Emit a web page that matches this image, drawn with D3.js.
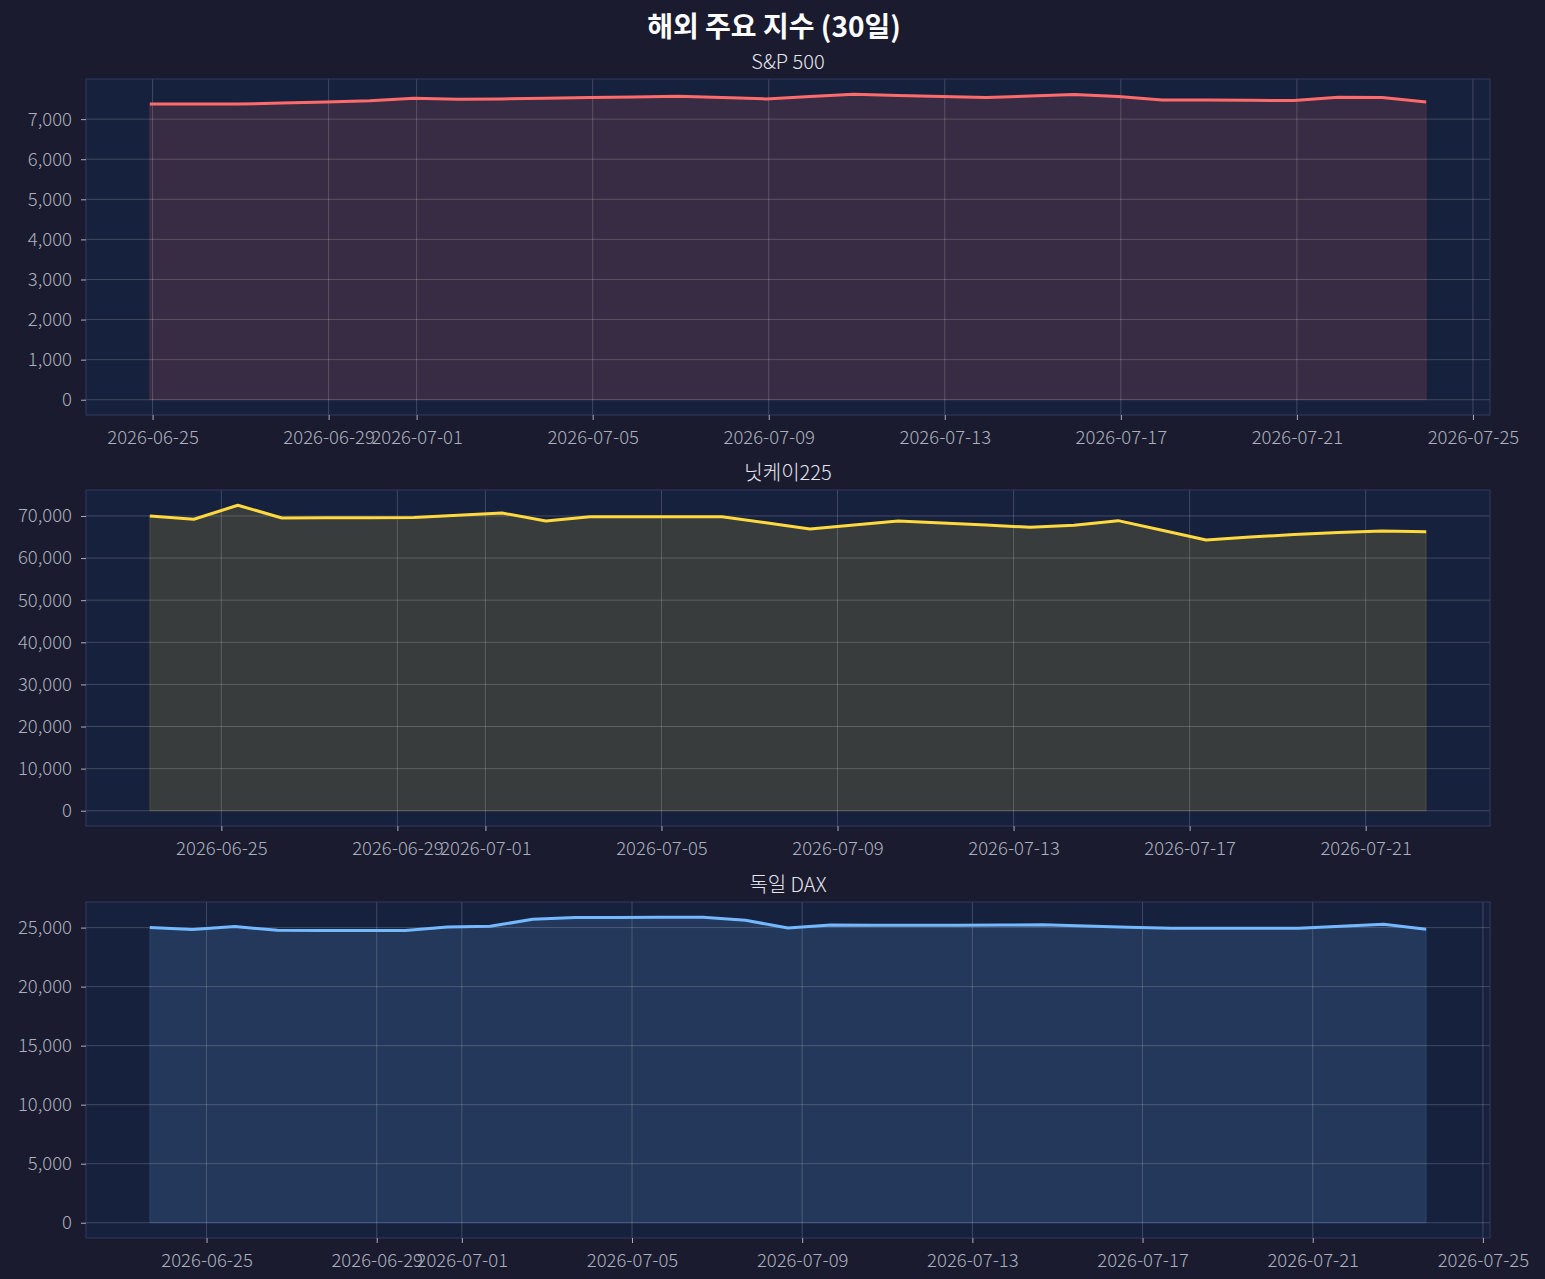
<!DOCTYPE html>
<html>
<head>
<meta charset="utf-8">
<script src="https://cdn.jsdelivr.net/npm/d3@7"></script>
<style>
  html, body { margin: 0; padding: 0; background: #1a1b2e; }
  svg { display: block; }
  text { font-family: "Noto Sans CJK KR", "Noto Sans", sans-serif; }
</style>
</head>
<body>
<svg id="chart" width="1545" height="1279"></svg>
<script>
// ---------------- data ----------------
const chartTitle = "해외 주요 지수 (30일)";
const panelTitles = ["S&P 500", "닛케이225", "독일 DAX"];
const lineColors = ["#ff6b6b", "#ffd93d", "#74b9ff"];

const spTime = "22:30";
const spDays = ["2026-06-24","2026-06-25","2026-06-26","2026-06-27","2026-06-28","2026-06-29","2026-06-30",
  "2026-07-01","2026-07-02","2026-07-03","2026-07-04","2026-07-05","2026-07-06","2026-07-07","2026-07-08",
  "2026-07-09","2026-07-10","2026-07-11","2026-07-12","2026-07-13","2026-07-14","2026-07-15","2026-07-16",
  "2026-07-17","2026-07-18","2026-07-19","2026-07-20","2026-07-21","2026-07-22","2026-07-23"];
const spValues = [7380, 7380, 7375, 7400, 7430, 7460, 7520, 7497, 7505, 7520, 7537, 7555, 7572, 7540, 7505,
  7565, 7620, 7590, 7562, 7537, 7575, 7612, 7562, 7480, 7475, 7470, 7463, 7546, 7537, 7430];

const nkTime = "09:00";
const nkDays = ["2026-06-23","2026-06-24","2026-06-25","2026-06-26","2026-06-27","2026-06-28","2026-06-29",
  "2026-06-30","2026-07-01","2026-07-02","2026-07-03","2026-07-04","2026-07-05","2026-07-06","2026-07-07",
  "2026-07-08","2026-07-09","2026-07-10","2026-07-11","2026-07-12","2026-07-13","2026-07-14","2026-07-15",
  "2026-07-16","2026-07-17","2026-07-18","2026-07-19","2026-07-20","2026-07-21","2026-07-22"];
const nkValues = [70000, 69220, 72540, 69530, 69550, 69580, 69610, 70150, 70720, 68820, 69800, 69800, 69800,
  69800, 68400, 66920, 67870, 68820, 68330, 67830, 67320, 67800, 68890, 66600, 64310, 65000, 65580, 66050,
  66450, 66280];

const dxTime = "16:00";
const dxDays = ["2026-06-23","2026-06-24","2026-06-25","2026-06-26","2026-06-27","2026-06-28","2026-06-29",
  "2026-06-30","2026-07-01","2026-07-02","2026-07-03","2026-07-04","2026-07-05","2026-07-06","2026-07-07",
  "2026-07-08","2026-07-09","2026-07-10","2026-07-11","2026-07-12","2026-07-13","2026-07-14","2026-07-15",
  "2026-07-16","2026-07-17","2026-07-18","2026-07-19","2026-07-20","2026-07-21","2026-07-22","2026-07-23"];
const dxValues = [25000, 24830, 25085, 24770, 24760, 24750, 24745, 25050, 25110, 25705, 25850, 25860, 25870,
  25875, 25620, 24970, 25220, 25200, 25200, 25200, 25220, 25240, 25130, 25030, 24950, 24940, 24940, 24940,
  25110, 25280, 24860];

const xTickLabels = ["2026-06-21","2026-06-25","2026-06-29","2026-07-01","2026-07-05","2026-07-09",
  "2026-07-13","2026-07-17","2026-07-21","2026-07-25"];
const spYTicks = [0, 1000, 2000, 3000, 4000, 5000, 6000, 7000];
const nkYTicks = [0, 10000, 20000, 30000, 40000, 50000, 60000, 70000];
const dxYTicks = [0, 5000, 10000, 15000, 20000, 25000];

// ---------------- layout ----------------
const W = 1545, H = 1279;
const axLeft = 86, axRight = 1490;
const panelTops = [79, 490, 902];
const panelH = 336;
const axBg = "#16213e";
const gridColor = "rgba(255,255,255,0.18)";
const spineColor = "#343b5e";
const tickColor = "#aab0bd";

const parseT = d3.utcParse("%Y-%m-%dT%H:%M");
const parseD = d3.utcParse("%Y-%m-%d");
const fmt = d3.format(",");

const panels = [
  {days: spDays, time: spTime, values: spValues, yTicks: spYTicks},
  {days: nkDays, time: nkTime, values: nkValues, yTicks: nkYTicks},
  {days: dxDays, time: dxTime, values: dxValues, yTicks: dxYTicks}
];

const svg = d3.select("#chart");
svg.append("rect").attr("width", W).attr("height", H).attr("fill", "#1a1b2e");

svg.append("text")
  .attr("x", 774).attr("y", 37)
  .attr("text-anchor", "middle")
  .attr("fill", "#ffffff")
  .attr("font-size", 28)
  .attr("font-weight", "bold")
  .text(chartTitle);

panels.forEach((p, i) => {
  const top = panelTops[i], bottom = top + panelH;
  const data = p.days.map((d, k) => ({t: parseT(d + "T" + p.time), v: p.values[k]}));
  const t0 = data[0].t, t1 = data[data.length - 1].t;
  const span = t1 - t0;
  const x = d3.scaleUtc()
    .domain([new Date(+t0 - span * 0.05), new Date(+t1 + span * 0.05)])
    .range([axLeft, axRight]);
  const vmax = d3.max(data, d => d.v);
  const y = d3.scaleLinear()
    .domain([-vmax * 0.05, vmax * 1.05])
    .range([bottom, top]);

  const g = svg.append("g");
  g.append("rect")
    .attr("x", axLeft).attr("y", top)
    .attr("width", axRight - axLeft).attr("height", panelH)
    .attr("fill", axBg);

  // fill area
  const area = d3.area().x(d => x(d.t)).y0(y(0)).y1(d => y(d.v));
  g.append("path").datum(data)
    .attr("d", area)
    .attr("fill", lineColors[i]).attr("fill-opacity", 0.15)
    .attr("stroke", lineColors[i]).attr("stroke-opacity", 0.15).attr("stroke-width", 1);

  // grid
  const xTicks = xTickLabels.map(parseD).filter(d => d >= x.domain()[0] && d <= x.domain()[1]);
  g.append("g").selectAll("line").data(xTicks).join("line")
    .attr("x1", d => x(d)).attr("x2", d => x(d))
    .attr("y1", top).attr("y2", bottom)
    .attr("stroke", gridColor).attr("stroke-width", 1);
  g.append("g").selectAll("line").data(p.yTicks).join("line")
    .attr("x1", axLeft).attr("x2", axRight)
    .attr("y1", d => y(d)).attr("y2", d => y(d))
    .attr("stroke", gridColor).attr("stroke-width", 1);

  // line
  const line = d3.line().x(d => x(d.t)).y(d => y(d.v));
  g.append("path").datum(data)
    .attr("d", line)
    .attr("fill", "none")
    .attr("stroke", lineColors[i])
    .attr("stroke-width", 3)
    .attr("stroke-linejoin", "round");

  // spines
  g.append("rect")
    .attr("x", axLeft).attr("y", top)
    .attr("width", axRight - axLeft).attr("height", panelH)
    .attr("fill", "none").attr("stroke", spineColor).attr("stroke-width", 1);

  // axes
  const xAxis = d3.axisBottom(x).tickValues(xTicks).tickFormat(d3.utcFormat("%Y-%m-%d"))
    .tickSize(5).tickPadding(11);
  const xg = g.append("g").attr("transform", `translate(0,${bottom})`).call(xAxis);
  const yAxis = d3.axisLeft(y).tickValues(p.yTicks).tickFormat(fmt).tickSize(5).tickPadding(9);
  const yg = g.append("g").attr("transform", `translate(${axLeft},0)`).call(yAxis);
  [xg, yg].forEach(ax => {
    ax.select(".domain").remove();
    ax.selectAll(".tick line").attr("stroke", tickColor);
    ax.selectAll(".tick text").attr("fill", tickColor)
      .attr("font-size", 18.5)
      .attr("font-weight", 300)
      .attr("font-family", '"Noto Sans CJK KR", "Noto Sans", sans-serif');
  });

  g.append("text")
    .attr("x", (axLeft + axRight) / 2).attr("y", top - 10)
    .attr("text-anchor", "middle")
    .attr("fill", "#e6e6ee")
    .attr("font-size", 20)
    .attr("font-weight", 300)
    .text(panelTitles[i]);
});
</script>
</body>
</html>
